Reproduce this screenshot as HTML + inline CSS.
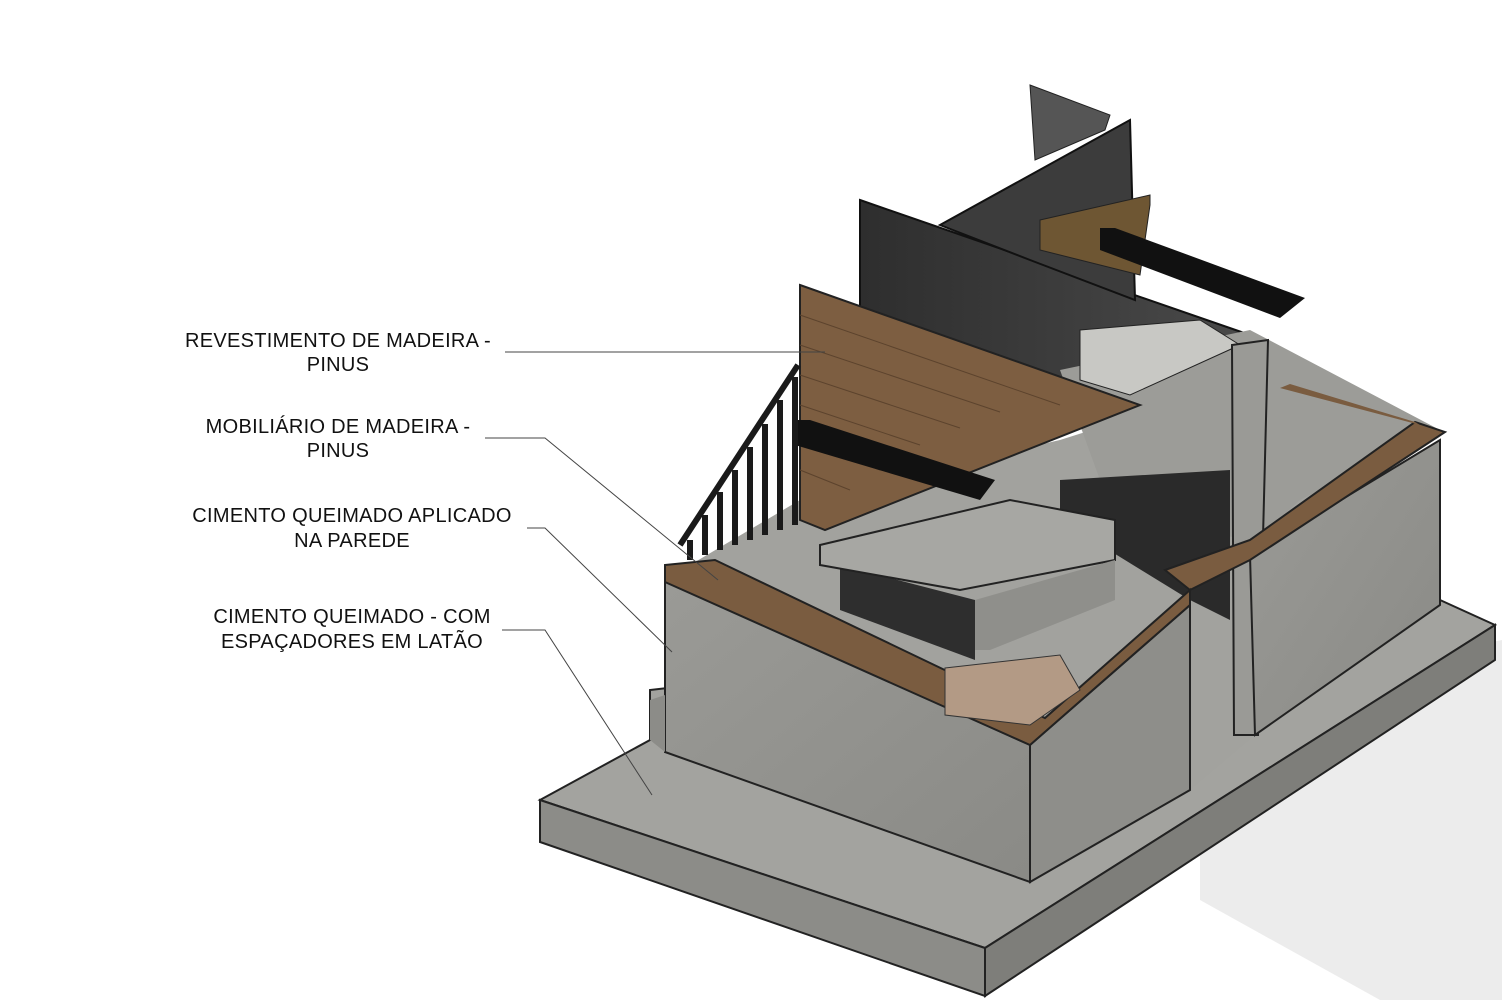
<!DOCTYPE html>
<html><head><meta charset="utf-8"><style>
html,body{margin:0;padding:0;background:#fff;}
svg{display:block}
text{font-family:"Liberation Sans",sans-serif;font-size:20px;fill:#111;letter-spacing:0.3px}
</style></head><body>
<svg width="1502" height="1000" viewBox="0 0 1502 1000" xmlns="http://www.w3.org/2000/svg">
<defs>
<linearGradient id="wall" x1="0" y1="0" x2="1" y2="1"><stop offset="0" stop-color="#9a9a96"/><stop offset="1" stop-color="#8a8a86"/></linearGradient>
<linearGradient id="dark" x1="0" y1="0" x2="1" y2="0"><stop offset="0" stop-color="#2e2e2e"/><stop offset="1" stop-color="#4a4a4a"/></linearGradient>
</defs>
<!-- shadow -->
<polygon points="1200,700 1502,640 1502,1000 1380,1000 1200,900" fill="#ececec"/>
<!-- slab -->
<polygon points="540,800 650,740 650,690 1440,600 1495,625 985,948" fill="#a3a39f" stroke="#222" stroke-width="2"/>
<polygon points="540,800 985,948 985,996 540,842" fill="#8c8c88" stroke="#222" stroke-width="2"/>
<polygon points="985,948 1495,625 1495,660 985,996" fill="#7e7e7a" stroke="#222" stroke-width="2"/>
<!-- interior fill -->
<polygon points="690,565 800,500 1060,440 1250,380 1440,430 1250,555 1255,735 1190,790 1190,600 1040,730" fill="#a2a29e"/>
<!-- dark back wall -->
<polygon points="860,200 1250,335 1240,440 860,310" fill="url(#dark)" stroke="#111" stroke-width="2"/>
<polygon points="940,225 1130,120 1135,300 1030,260" fill="#3c3c3c" stroke="#111" stroke-width="2"/>
<polygon points="1030,85 1110,115 1105,130 1035,160" fill="#555" stroke="#222"/>
<polygon points="1040,220 1150,195 1150,205 1140,275 1040,250" fill="#6e5633" stroke="#222"/>
<!-- black pendant lights -->
<polygon points="1100,228 1115,228 1305,298 1280,318 1100,250" fill="#111"/>
<!-- interior gray -->
<polygon points="1060,370 1250,330 1440,430 1300,500 1250,545 1100,480" fill="#9c9c98"/>
<polygon points="1080,330 1200,320 1240,345 1130,395 1080,380" fill="#c8c8c4" stroke="#222"/>
<!-- wood wall panel -->
<polygon points="800,285 1140,405 825,530 800,520" fill="#7d5e41" stroke="#222" stroke-width="2"/>
<g stroke="#5c432d" stroke-width="1">
<line x1="800" y1="315" x2="1060" y2="405"/><line x1="800" y1="345" x2="1000" y2="412"/><line x1="800" y1="375" x2="960" y2="428"/><line x1="800" y1="405" x2="920" y2="445"/><line x1="800" y1="440" x2="880" y2="470"/><line x1="800" y1="470" x2="850" y2="490"/>
</g>
<polygon points="795,420 810,420 995,480 980,500 795,445" fill="#111"/>
<!-- railing -->
<g stroke="#1a1a1a" stroke-width="6">
<line x1="680" y1="545" x2="798" y2="365"/>
<line x1="690" y1="540" x2="690" y2="560"/><line x1="705" y1="515" x2="705" y2="555"/><line x1="720" y1="492" x2="720" y2="550"/><line x1="735" y1="470" x2="735" y2="545"/><line x1="750" y1="447" x2="750" y2="540"/><line x1="765" y1="424" x2="765" y2="535"/><line x1="780" y1="400" x2="780" y2="530"/><line x1="795" y1="377" x2="795" y2="525"/>
</g>
<!-- doors / counter -->
<polygon points="1060,480 1230,470 1230,620 1190,600 1060,520" fill="#2a2a2a"/>
<polygon points="840,565 975,600 975,660 840,610" fill="#2e2e2e"/>
<polygon points="820,545 1010,500 1115,520 1115,560 960,590 820,565" fill="#a7a7a3" stroke="#222" stroke-width="2"/>
<polygon points="975,600 1115,560 1115,600 990,650 975,650" fill="#8f8f8b"/>
<!-- column -->
<polygon points="1232,345 1268,340 1258,735 1234,735" fill="#9a9a96" stroke="#222" stroke-width="2"/>
<!-- right wall -->
<polygon points="1250,555 1440,440 1440,605 1255,735" fill="url(#wall)" stroke="#222" stroke-width="2"/>
<polygon points="1165,570 1250,540 1415,422 1445,432 1250,560 1190,590" fill="#7a5c40" stroke="#222" stroke-width="2"/>
<polygon points="1280,388 1420,425 1415,422 1290,384" fill="#7a5c40"/>
<!-- front wall -->
<polygon points="665,580 1030,745 1030,882 665,752" fill="url(#wall)" stroke="#222" stroke-width="2"/>
<polygon points="1030,745 1190,605 1190,790 1030,882" fill="#8e8e8a" stroke="#222" stroke-width="2"/>
<polygon points="665,565 715,560 1045,718 1190,590 1190,605 1030,745 665,582" fill="#7a5c40" stroke="#222" stroke-width="2"/>
<polygon points="945,668 1060,655 1080,690 1030,725 945,715" fill="#b39a85" stroke="#333"/>
<polygon points="650,700 665,695 665,752 650,740" fill="#8c8c88"/>
<!-- labels -->
<text x="338" y="347" text-anchor="middle">REVESTIMENTO DE MADEIRA -</text>
<text x="338" y="371" text-anchor="middle">PINUS</text>
<text x="338" y="433" text-anchor="middle">MOBILIÁRIO DE MADEIRA -</text>
<text x="338" y="457" text-anchor="middle">PINUS</text>
<text x="352" y="522" text-anchor="middle">CIMENTO QUEIMADO APLICADO</text>
<text x="352" y="547" text-anchor="middle">NA PAREDE</text>
<text x="352" y="623" text-anchor="middle">CIMENTO QUEIMADO - COM</text>
<text x="352" y="648" text-anchor="middle">ESPAÇADORES EM LATÃO</text>
<g stroke="#444" stroke-width="1" fill="none">
<polyline points="505,352 825,352"/>
<polyline points="485,438 545,438 718,580"/>
<polyline points="527,528 545,528 672,652"/>
<polyline points="502,630 545,630 652,795"/>
</g>
</svg>
</body></html>
